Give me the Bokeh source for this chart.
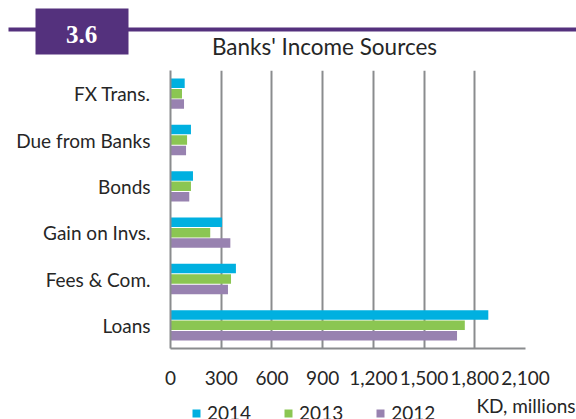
from bokeh.plotting import figure
from bokeh.layouts import column
from bokeh.models import (FactorRange, Range1d, FixedTicker, NumeralTickFormatter,
                          Legend, LegendItem, Label, BoxAnnotation, ColumnDataSource)
from bokeh.transform import dodge
from bokeh.embed import file_html
from bokeh.resources import INLINE

categories = ["Loans", "Fees & Com.", "Gain on Invs.", "Bonds", "Due from Banks", "FX Trans."]
years = ["2014", "2013", "2012"]
v2014 = [1880, 387, 305, 133, 121, 84]
v2013 = [1741, 358, 235, 121, 98, 68]
v2012 = [1695, 340, 354, 111, 92, 80]
x_ticks = [0, 300, 600, 900, 1200, 1500, 1800, 2100]
title_text = "Banks' Income Sources"
badge_text = "3.6"
unit_text = "KD, millions"

colors = {"2014": "#00b0e0", "2013": "#8bc652", "2012": "#9882b0"}
offsets = {"2014": 0.225, "2013": 0.0, "2012": -0.225}
FONT = "Lato"
TXT = "#262626"
PURPLE = "#54317d"
W = 576


def bare(height, y0, y1):
    f = figure(width=W, height=height, output_backend="svg", toolbar_location=None,
               x_range=Range1d(0, W), y_range=Range1d(y0, y1), min_border=0,
               x_axis_location=None, y_axis_location=None, frame_align=False)
    f.grid.visible = False
    f.outline_line_color = None
    return f


# ---- header (page y 0..62) ----
head = bare(62, 62, 0)
head.add_layout(BoxAnnotation(left=8, right=576, top=27, bottom=31,
                              fill_color=PURPLE, fill_alpha=1, line_color=None))
head.add_layout(BoxAnnotation(left=35, right=128, top=8, bottom=54,
                              fill_color=PURPLE, fill_alpha=1, line_color=None))
head.add_layout(Label(x=81, y=34, text=badge_text, text_font="Liberation Serif",
                      text_font_style="bold", text_font_size="25px", text_color="white",
                      text_align="center", text_baseline="middle"))
head.add_layout(Label(x=324, y=46, text=title_text, text_font=FONT, text_font_size="22.5px",
                      text_color=TXT, text_align="center", text_baseline="middle"))

# ---- main chart (page y 62..392) ----
src = ColumnDataSource(dict(cat=categories, v2014=v2014, v2013=v2013, v2012=v2012))
p = figure(width=W, height=330, output_backend="svg", toolbar_location=None,
           y_range=FactorRange(*categories), x_range=Range1d(0, 2100), frame_align=False,
           min_border_left=170, min_border_right=51, min_border_top=8, min_border_bottom=44)
p.outline_line_color = None

renderers = {}
for y in years:
    renderers[y] = p.hbar(y=dodge("cat", offsets[y], range=p.y_range), right="v" + y, left=0,
                          height=0.205, source=src, fill_color=colors[y], line_color=None)

p.xaxis.ticker = FixedTicker(ticks=x_ticks)
p.xaxis.formatter = NumeralTickFormatter(format="0,0")
for ax in (p.xaxis, p.yaxis):
    ax.axis_line_color = "#8a8c8e"
    ax.axis_line_width = 2
    ax.major_tick_line_color = None
    ax.minor_tick_line_color = None
    ax.major_label_text_font = FONT
    ax.major_label_text_font_size = "19px"
    ax.major_label_text_color = TXT
p.xaxis.major_label_standoff = 16
p.yaxis.major_label_standoff = 14

p.xgrid.grid_line_color = "#8a8c8e"
p.xgrid.grid_line_width = 2
p.ygrid.grid_line_color = None

# ---- footer (page y 392..419) with legend and unit note ----
foot = bare(27, 419, 392)
# zero-size legend proxies (nothing visible is drawn by them)
proxies = {y: foot.hbar(y=[0], left=[0], right=[0], height=0,
                        fill_color=colors[y], line_color=None)
           for y in years}
legend = Legend(items=[LegendItem(label=y, renderers=[proxies[y]]) for y in years],
                orientation="horizontal", location=(191, -5), padding=0, margin=0,
                spacing=32, glyph_width=10, glyph_height=10, label_standoff=6,
                border_line_color=None, background_fill_alpha=0,
                label_text_font=FONT, label_text_font_size="19px", label_text_color=TXT)
foot.add_layout(legend, "center")
foot.add_layout(Label(x=575, y=405, text=unit_text, text_font=FONT, text_font_size="19px",
                      text_color=TXT, text_align="right", text_baseline="middle"))

layout = column(head, p, foot, spacing=0)
open("out.html", "w").write(file_html(layout, INLINE))
